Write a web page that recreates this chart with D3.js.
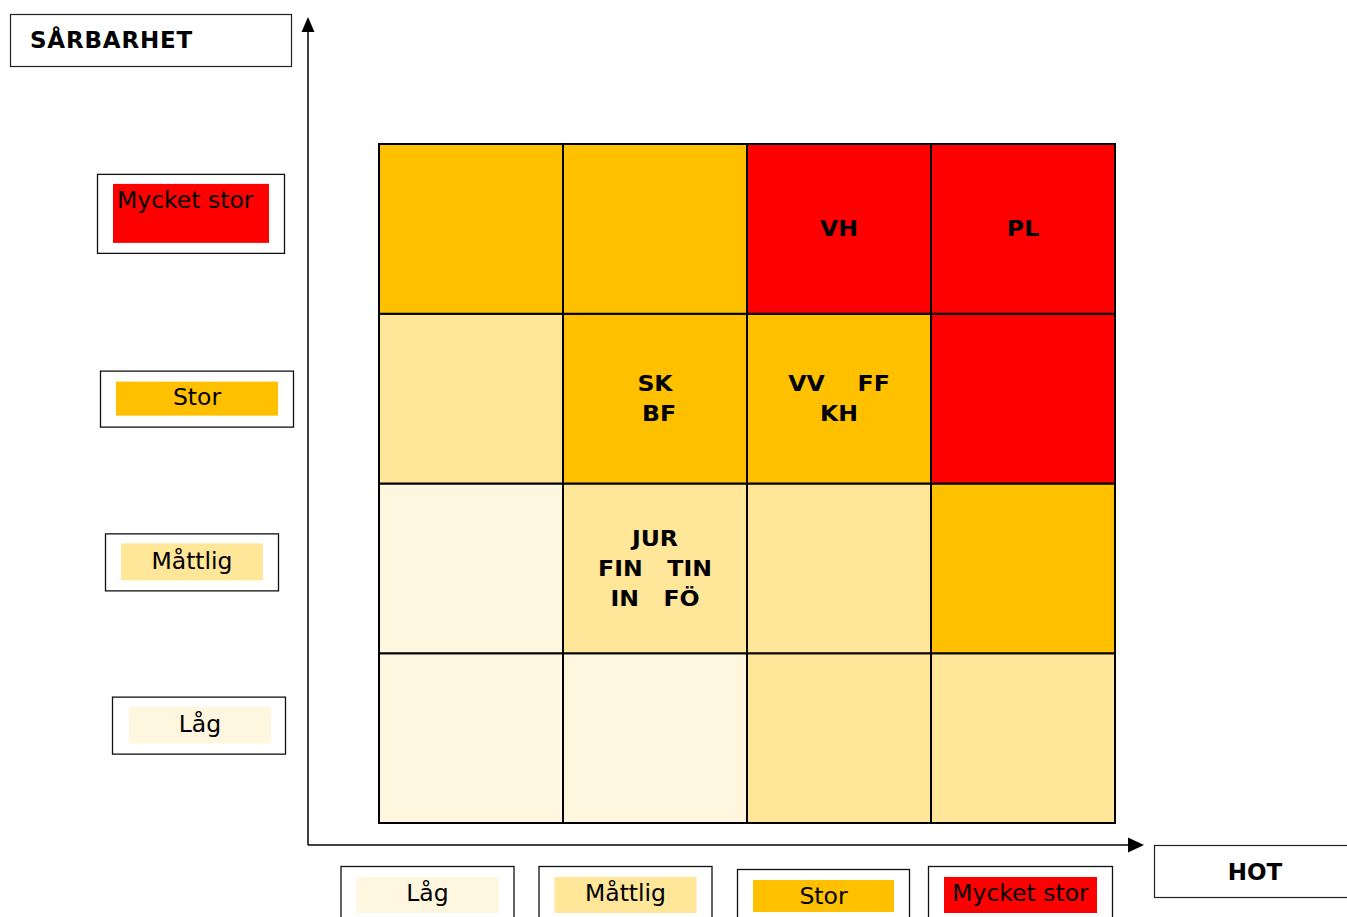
<!DOCTYPE html>
<html>
<head>
<meta charset="utf-8">
<script src="https://cdn.jsdelivr.net/npm/d3@7"></script>
<style>
  body { margin: 0; background: #fff; }
  svg { display: block; font-family: "DejaVu Sans", Verdana, sans-serif; }
  text { white-space: pre; }
</style>
</head>
<body>
<svg id="chart" width="1347" height="917"></svg>
<script>
// levels, low -> high
var levels = ["Låg", "Måttlig", "Stor", "Mycket stor"];
var levelColors = ["#FFF6E0", "#FFE699", "#FFC000", "#FF0000"];

// risk level of each cell, rows = vulnerability (Låg..Mycket stor), cols = threat (Låg..Mycket stor)
var riskMatrix = [
  [0, 0, 1, 1],
  [0, 1, 1, 2],
  [1, 2, 2, 3],
  [2, 2, 3, 3]
];

// text in cells: [vulnerability index, threat index, lines]
var cellLabels = [
  [3, 2, ["VH"]],
  [3, 3, ["PL"]],
  [2, 1, ["SK", " BF"]],
  [2, 2, ["VV    FF", "KH"]],
  [1, 1, ["JUR", "FIN   TIN", "IN   FÖ"]]
];

var yTitle = "SÅRBARHET";
var xTitle = "HOT";

// legend box layout (left boxes: x, width, height, y nudge from row centre)
var leftBox = [[112, 173, 57, -13], [105, 173, 57, -6.5], [100, 193, 56, 0], [97, 187, 79, -15.5]];
// bottom boxes: x nudge from column centre, width
var bottomBox = [[-44, 173], [-30, 173], [-16, 172], [-3, 184]];

var svg = d3.select("#chart");

var grid = { left: 379, right: 1115, top: 144, bottom: 823 };

var x = d3.scaleBand().domain(d3.range(4)).range([grid.left, grid.right]);
var y = d3.scaleBand().domain(d3.range(4)).range([grid.bottom, grid.top]);

// cells
var cells = [];
riskMatrix.forEach(function (row, r) {
  row.forEach(function (lvl, c) { cells.push({ r: r, c: c, lvl: lvl }); });
});

svg.append("g").selectAll("rect")
  .data(cells)
  .enter().append("rect")
  .attr("x", d => x(d.c))
  .attr("y", d => y(d.r))
  .attr("width", x.bandwidth())
  .attr("height", y.bandwidth())
  .attr("fill", d => levelColors[d.lvl])
  .attr("stroke", "#000")
  .attr("stroke-width", 2);

// cell labels (stretched a bit to get the wide bold look)
var lineGap = 30;
var labelG = svg.append("g");
cellLabels.forEach(function (cl) {
  var cx = x(cl[1]) + x.bandwidth() / 2,
      cy = y(cl[0]) + y.bandwidth() / 2,
      lines = cl[2];
  lines.forEach(function (ln, i) {
    labelG.append("text")
      .attr("transform", "translate(" + cx + "," + (cy + (i - (lines.length - 1) / 2) * lineGap) + ") scale(1.15,1)")
      .attr("text-anchor", "middle")
      .attr("dominant-baseline", "central")
      .attr("font-weight", "bold")
      .attr("font-size", 20.5)
      .attr("xml:space", "preserve")
      .text(ln);
  });
});

// axes with arrows
var axisX0 = 308, axisY0 = 845;
svg.append("line")
  .attr("x1", axisX0).attr("y1", axisY0)
  .attr("x2", axisX0).attr("y2", 28)
  .attr("stroke", "#000").attr("stroke-width", 1.5);
svg.append("path")
  .attr("d", d3.line()([[axisX0, 17], [axisX0 - 6.5, 32], [axisX0 + 6.5, 32]]) + "Z")
  .attr("fill", "#000");
svg.append("line")
  .attr("x1", axisX0).attr("y1", axisY0)
  .attr("x2", 1132).attr("y2", axisY0)
  .attr("stroke", "#000").attr("stroke-width", 1.5);
svg.append("path")
  .attr("d", d3.line()([[1144, axisY0], [1128, axisY0 - 7.5], [1128, axisY0 + 7.5]]) + "Z")
  .attr("fill", "#000");

// axis title boxes
svg.append("rect")
  .attr("x", 10.5).attr("y", 14.5).attr("width", 281).attr("height", 52)
  .attr("fill", "#fff").attr("stroke", "#222").attr("stroke-width", 1.2);
svg.append("text")
  .attr("x", 30).attr("y", 48)
  .attr("font-weight", "bold").attr("font-size", 23)
  .attr("letter-spacing", 0.8)
  .text(yTitle);

svg.append("rect")
  .attr("x", 1154.5).attr("y", 845.5).attr("width", 200).attr("height", 52)
  .attr("fill", "#fff").attr("stroke", "#222").attr("stroke-width", 1.2);
svg.append("text")
  .attr("x", 1255).attr("y", 880)
  .attr("text-anchor", "middle")
  .attr("font-weight", "bold").attr("font-size", 23)
  .text(xTitle);

// left legend (vulnerability)
var leftG = svg.append("g");
levels.forEach(function (lv, i) {
  var b = leftBox[i];
  var big = i === 3;
  var bx = b[0], bw = b[1], bh = b[2];
  var by = y(i) + y.bandwidth() / 2 - bh / 2 + b[3];
  leftG.append("rect")
    .attr("x", bx + 0.5).attr("y", by + 0.5).attr("width", bw).attr("height", bh)
    .attr("fill", "#fff").attr("stroke", "#111").attr("stroke-width", 1.3);
  var ix = bx + (i === 0 ? 17 : 16), iy = by + (i === 2 ? 11 : 10),
      iw = bw - 31, ih = big ? bh - 20 : (i === 2 ? 34 : 37);
  leftG.append("rect")
    .attr("x", ix).attr("y", iy).attr("width", iw).attr("height", ih)
    .attr("fill", levelColors[i]);
  leftG.append("text")
    .attr("x", big ? ix + 4 : ix + iw / 2)
    .attr("y", big ? iy + 24 : iy + ih / 2 + (i === 2 ? 6 : 7))
    .attr("text-anchor", big ? "start" : "middle")
    .attr("font-size", 23.5)
    .text(lv);
});

// bottom legend (threat)
var botG = svg.append("g");
levels.forEach(function (lv, i) {
  var b = bottomBox[i];
  var bw = b[1];
  var bx = x(i) + x.bandwidth() / 2 - bw / 2 + b[0];
  var by = i === 2 ? 869 : 866;
  botG.append("rect")
    .attr("x", bx + 0.5).attr("y", by + 0.5).attr("width", bw).attr("height", 80)
    .attr("fill", "#fff").attr("stroke", "#111").attr("stroke-width", 1.3);
  var ix = bx + 16, iw = bw - 31;
  var iy = 877 + (i === 2 ? 3 : 0), ih = i === 2 ? 32 : 36;
  botG.append("rect")
    .attr("x", ix).attr("y", iy).attr("width", iw).attr("height", ih)
    .attr("fill", levelColors[i]);
  botG.append("text")
    .attr("x", ix + iw / 2)
    .attr("y", i === 2 ? 904 : 901)
    .attr("text-anchor", "middle")
    .attr("font-size", 23.5)
    .text(lv);
});
</script>
</body>
</html>
